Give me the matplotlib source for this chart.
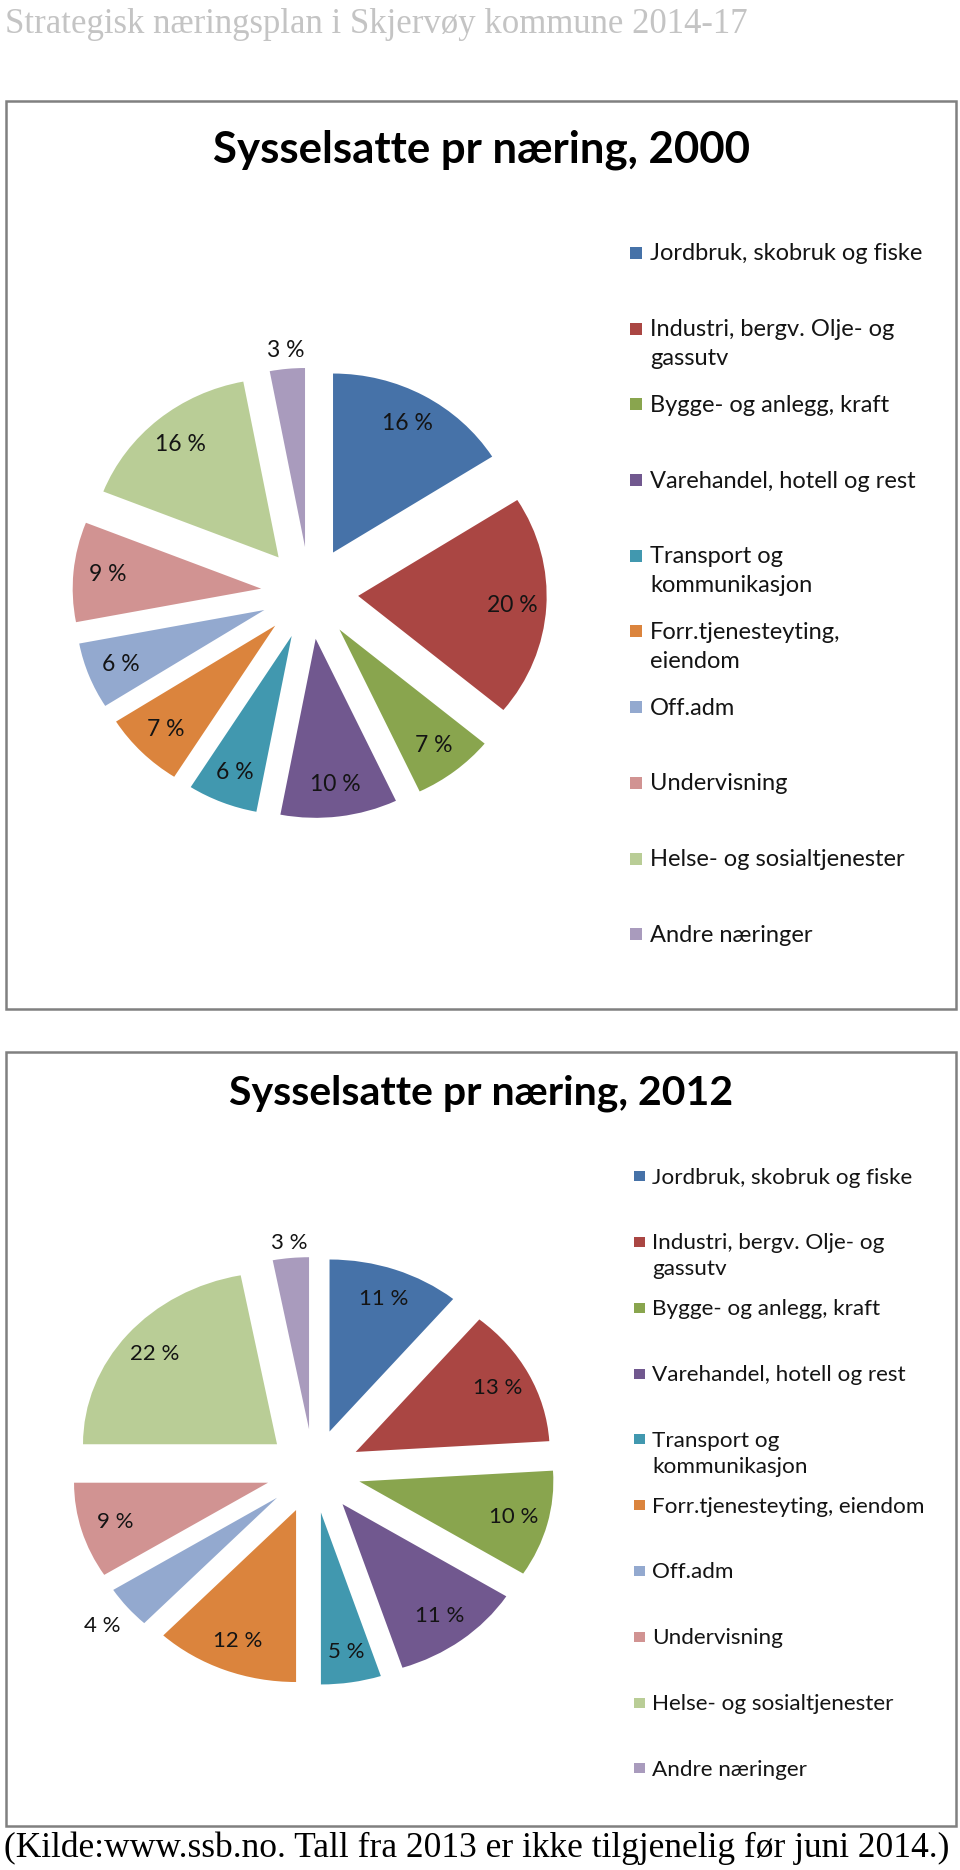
import matplotlib
matplotlib.use("Agg")
import matplotlib.pyplot as plt
from matplotlib.patches import Rectangle
import numpy as np

# ---------------- data ----------------
categories = ["Jordbruk, skobruk og fiske", "Industri, bergv. Olje- og gassutv",
              "Bygge- og anlegg, kraft", "Varehandel, hotell og rest",
              "Transport og kommunikasjon", "Forr.tjenesteyting, eiendom",
              "Off.adm", "Undervisning", "Helse- og sosialtjenester", "Andre næringer"]
legend_2000 = ["Jordbruk, skobruk og fiske", "Industri, bergv. Olje- og\ngassutv",
               "Bygge- og anlegg, kraft", "Varehandel, hotell og rest",
               "Transport og\nkommunikasjon", "Forr.tjenesteyting,\neiendom",
               "Off.adm", "Undervisning", "Helse- og sosialtjenester", "Andre næringer"]
legend_2012 = ["Jordbruk, skobruk og fiske", "Industri, bergv. Olje- og\ngassutv",
               "Bygge- og anlegg, kraft", "Varehandel, hotell og rest",
               "Transport og\nkommunikasjon", "Forr.tjenesteyting, eiendom",
               "Off.adm", "Undervisning", "Helse- og sosialtjenester", "Andre næringer"]
values_2000 = [16, 20, 7, 10, 6, 7, 6, 9, 16, 3]
values_2012 = [11, 13, 10, 11, 5, 12, 4, 9, 22, 3]
title_2000 = "Sysselsatte pr næring, 2000"
title_2012 = "Sysselsatte pr næring, 2012"
header = "Strategisk næringsplan i Skjervøy kommune 2014-17"
footer = "(Kilde:www.ssb.no. Tall fra 2013 er ikke tilgjenelig før juni 2014.)"

# ---------------- style ----------------
colors = ["#4672A8", "#AA4643", "#89A54E", "#71588F", "#4198AF",
          "#DB843D", "#93A9CF", "#D19392", "#B9CD96", "#A99BBD"]
W, H = 960, 1870
SANS = "Lato"
SERIF = "Liberation Serif"

fig = plt.figure(figsize=(W / 100, H / 100), dpi=100)
fig.patch.set_facecolor("white")


def fx(x):
    return x / W


def fy(y):
    return 1 - y / H


def frame(x0, y0, x1, y1):
    fig.patches.append(Rectangle((fx(x0), fy(y1)), fx(x1) - fx(x0), fy(y0) - fy(y1),
                                 transform=fig.transFigure, fill=False,
                                 edgecolor="#808080", linewidth=1.8))


def draw_pie(values, cx, cy, rx, ry, explode, dists, fs):
    ext = 1.5
    ax = fig.add_axes([fx(cx - ext * rx), fy(cy + ext * ry), 2 * ext * rx / W, 2 * ext * ry / H])
    wedges, _ = ax.pie(values, colors=colors, startangle=90, counterclock=False,
                       explode=[explode] * len(values), wedgeprops=dict(linewidth=0))
    ax.set_aspect("auto")
    ax.set_xlim(-ext, ext)
    ax.set_ylim(-ext, ext)
    ax.axis("off")
    for w, v, d in zip(wedges, values, dists):
        w.set_clip_on(False)
        th = np.deg2rad((w.theta1 + w.theta2) / 2)
        x0, y0 = w.center
        ax.text(x0 + d * np.cos(th), y0 + d * np.sin(th), f"{v} %", ha="center",
                va="center", fontsize=fs, color="#141414", family=SANS, clip_on=False)


def draw_legend(labels, x_sq, x_txt, y0, step, line_h, sq_w, sq_h, fs):
    for i, (lab, col) in enumerate(zip(labels, colors)):
        yb = y0 + i * step
        yc = yb - 7.5
        fig.patches.append(Rectangle((fx(x_sq), fy(yc + sq_h / 2)), sq_w / W, sq_h / H,
                                     transform=fig.transFigure, facecolor=col,
                                     edgecolor="none"))
        for j, line in enumerate(lab.split("\n")):
            fig.text(fx(x_txt), fy(yb + j * line_h), line, ha="left", va="baseline",
                     fontsize=fs, family=SANS, color="#141414")


# header
fig.text(fx(5), fy(33), header, ha="left", va="baseline", fontsize=25,
         family=SERIF, color="#c4c4c4")

# ---- chart 2000 ----
frame(6, 101, 956, 1009)
fig.text(fx(481), fy(150), title_2000, ha="center", va="center", fontsize=31.5,
         family=SANS, weight="bold", color="black")
draw_pie(values_2000, 309.6, 593, 188.5, 179, 0.258, [0.82] * 9 + [1.1], 16.5)
draw_legend(legend_2000, 630, 650, 260.5, 75.7, 29, 12, 12, 17)

# ---- chart 2012 ----
frame(6, 1052, 956, 1826)
fig.text(fx(481), fy(1093), title_2012, ha="center", va="center", fontsize=29.5,
         family=SANS, weight="bold", color="black")
draw_pie(values_2012, 313.5, 1471, 194, 172, 0.244,
         [0.82] * 6 + [1.17, 0.82, 0.82, 1.09], 16)
draw_legend(legend_2012, 634, 652, 1183.6, 65.8, 26, 11, 10, 16.2)

# footer
fig.text(fx(4), fy(1857), footer, ha="left", va="baseline", fontsize=25.5,
         family=SERIF, color="black")

fig.savefig("out.png", dpi=100, facecolor="white")
